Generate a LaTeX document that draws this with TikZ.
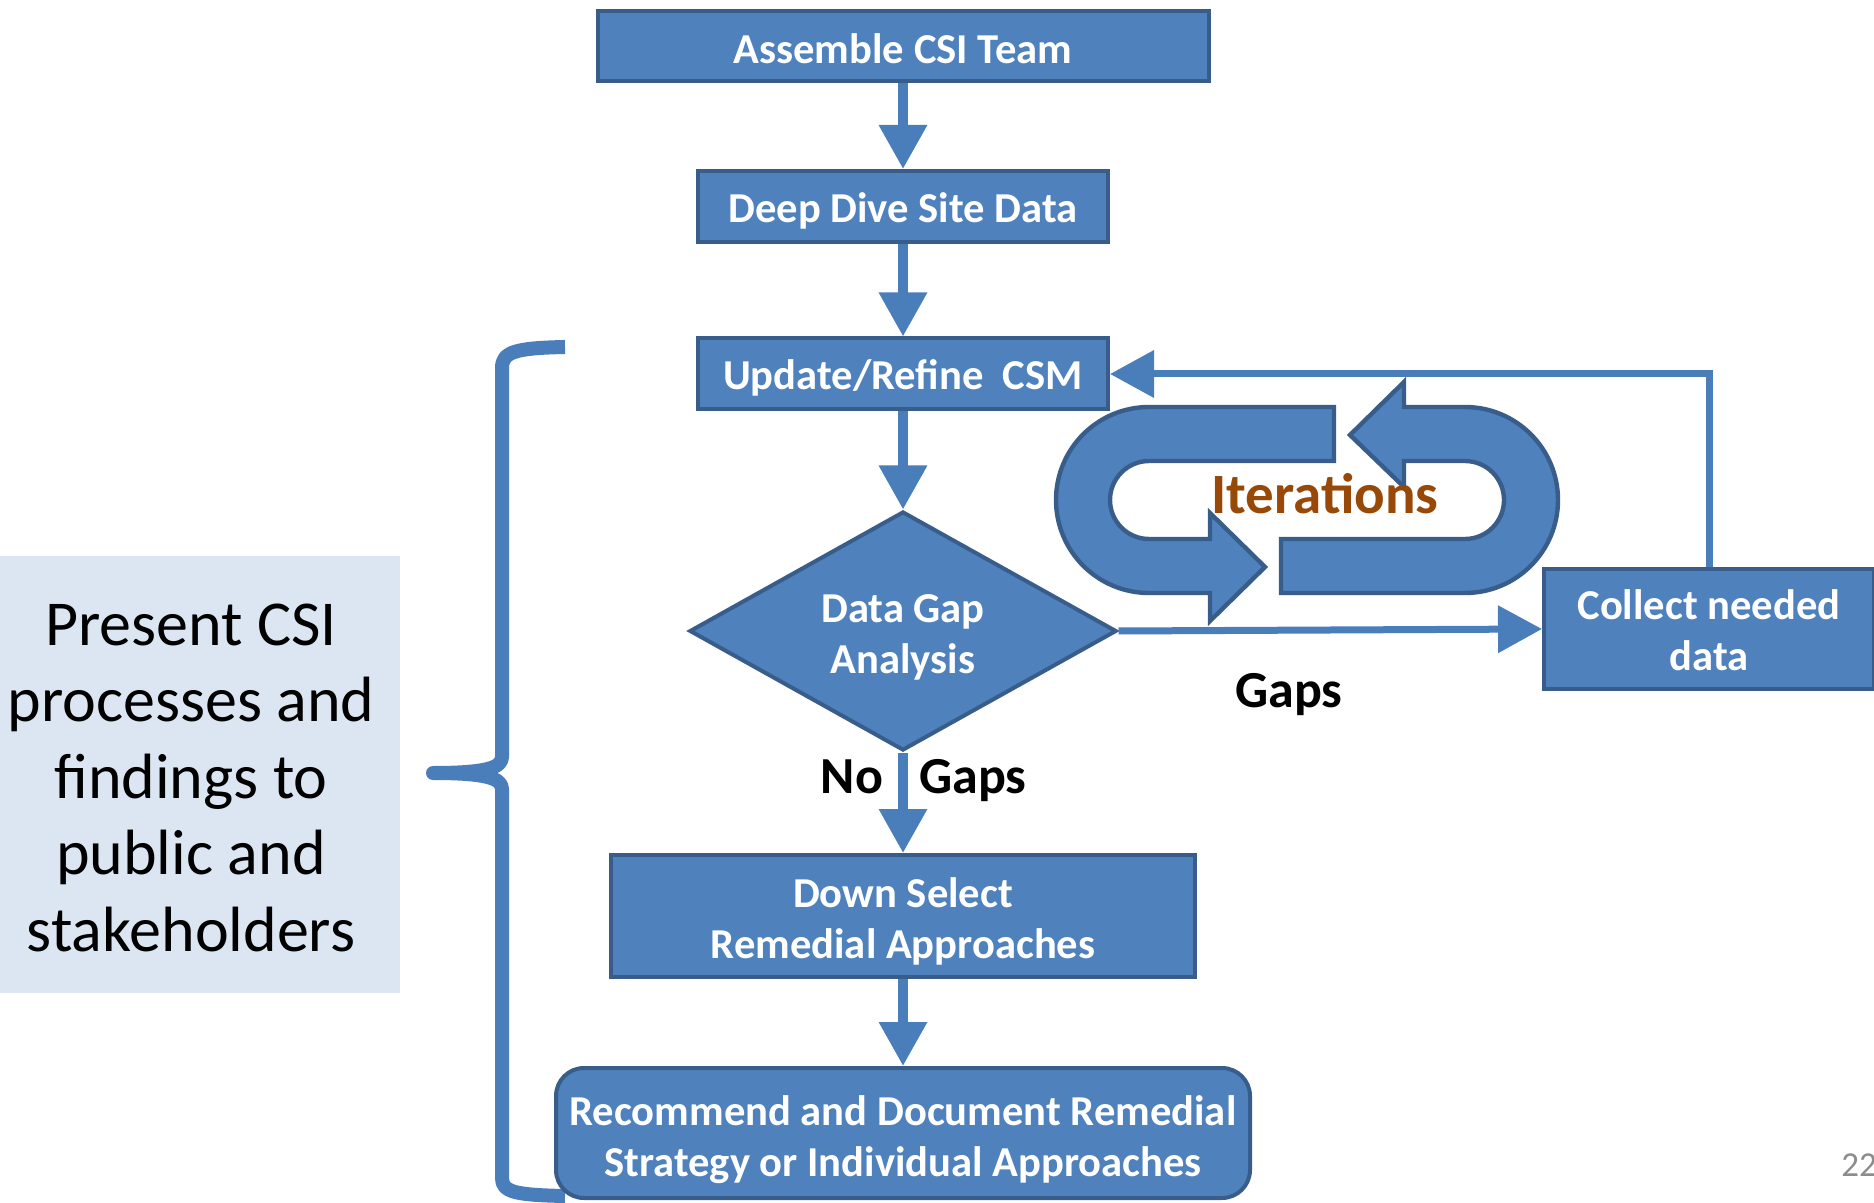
\documentclass[tikz,border=0pt]{standalone}
\usepackage{fontspec}
\setmainfont{Carlito}
\usetikzlibrary{arrows.meta,shapes.geometric}
\definecolor{boxfill}{HTML}{4F81BD}
\definecolor{boxline}{HTML}{385D8A}
\definecolor{arrowcol}{HTML}{4A7EBB}
\definecolor{leftfill}{HTML}{DCE6F2}
\definecolor{itercol}{HTML}{984807}
\definecolor{pagenum}{HTML}{8C8C8C}
\newcommand{\boxfont}{\fontsize{21.3}{25.5}\selectfont\bfseries}
\newcommand{\tup}[1]{\rule{0pt}{#1pt}}
\begin{document}
\begin{tikzpicture}[x=0.5pt,y=-0.5pt,
  flowbox/.style={draw=boxline, line width=2pt, fill=boxfill, text=white, font=\boxfont, align=center, inner sep=0pt},
  decision/.style={diamond, draw=boxline, line width=2pt, fill=boxfill, text=white, font=\boxfont, align=center, inner sep=0pt, minimum width=213.5pt, minimum height=119.5pt, aspect=1.787},
  mainarrow/.style={draw=arrowcol, line width=4.8pt, -{Triangle[length=22pt,width=23pt]}},
  thinarrow/.style={draw=arrowcol, line width=3.5pt, -{Triangle[length=22pt,width=23pt]}},
  gaplabel/.style={font=\fontsize{26}{31}\selectfont\bfseries, text=black, inner sep=0pt, anchor=base},
  iterblock/.style={fill=boxfill, draw=boxline, line width=2.2pt, line join=miter},
  bracepath/.style={draw=arrowcol, line width=7pt, line join=round},
]
\useasboundingbox (0,0) rectangle (1874,1203);

% left text box
\node[fill=leftfill, minimum width=209pt, minimum height=218.5pt, inner sep=0pt, align=center,
      font=\fontsize{32}{38.25}\selectfont, text=black] (present) at (191,774.5)
      {\rule{0pt}{24pt}Present CSI\\processes and\\findings to\\public and\\stakeholders};

% brace
\draw[bracepath] (565,347) .. controls (515,348) and (502,352) .. (502,368) -- (502,757)
   .. controls (502,768) and (485,773) .. (433,773)
   .. controls (485,773) and (502,778) .. (502,789) -- (502,1178)
   .. controls (502,1192) and (515,1195) .. (565,1196);

% iteration block arrows
\draw[iterblock] (1334,407) -- (1149,407) arc[start angle=90, end angle=270, radius=46.5pt]
   -- (1210,593) -- (1210,621) -- (1265,567) -- (1210,513) -- (1210,539) -- (1149,539)
   arc[start angle=270, end angle=90, radius=19.5pt] -- (1334,461) -- cycle;
\draw[iterblock] (1281,593) -- (1465,593) arc[start angle=270, end angle=450, radius=46.5pt]
   -- (1404,407) -- (1404,382) -- (1350,435) -- (1404,487) -- (1404,461) -- (1465,461)
   arc[start angle=90, end angle=-90, radius=19.5pt] -- (1281,539) -- cycle;
\node[font=\fontsize{28.5}{34}\selectfont\bfseries, text=itercol, anchor=base, inner sep=0pt] (iter) at (1325,513) {Iterations};

% boxes
\node[flowbox, minimum width=305.5pt, minimum height=35pt] (assemble) at (903,46) {\tup{17.5}Assemble CSI Team};
\node[flowbox, minimum width=205pt, minimum height=35.5pt] (deep) at (903,206.5) {\tup{19}Deep Dive Site Data};
\node[flowbox, minimum width=205pt, minimum height=35.5pt] (update) at (903,374) {\tup{19}Update/Refine\ \ CSM};
\node[decision] (gap) at (903,631) {\tup{20}Data Gap\\Analysis};
\node[flowbox, minimum width=292pt, minimum height=61pt] (down) at (903,916) {\tup{20}Down Select\\Remedial Approaches};
\node[flowbox, rounded corners=14pt, minimum width=347pt, minimum height=65pt] (recommend) at (903,1133) {\tup{22}Recommend and Document Remedial\\Strategy or Individual Approaches};
\node[flowbox, minimum width=165pt, minimum height=60pt] (collect) at (1709,629) {\tup{16}Collect needed\\data};

% arrows
\draw[mainarrow] (assemble.south) -- (deep.north);
\draw[mainarrow] (deep.south) -- (update.north);
\draw[mainarrow] (update.south) -- (gap.north);
\draw[mainarrow] (gap.south) -- (down.north);
\draw[mainarrow] (down.south) -- (recommend.north);
\draw[thinarrow] (gap.east) -- (collect.west);
\draw[thinarrow] (collect.north) |- (update.east);

% labels
\node[gaplabel] (nolbl) at (852,793) {No};
\node[gaplabel] (gapslbl) at (973,793) {Gaps};
\node[gaplabel] (gapsright) at (1289,707) {Gaps};
\node[font=\fontsize{17.5}{21}\selectfont, text=pagenum, anchor=base, inner sep=0pt] (pnum) at (1859,1176) {22};
\end{tikzpicture}
\end{document}
